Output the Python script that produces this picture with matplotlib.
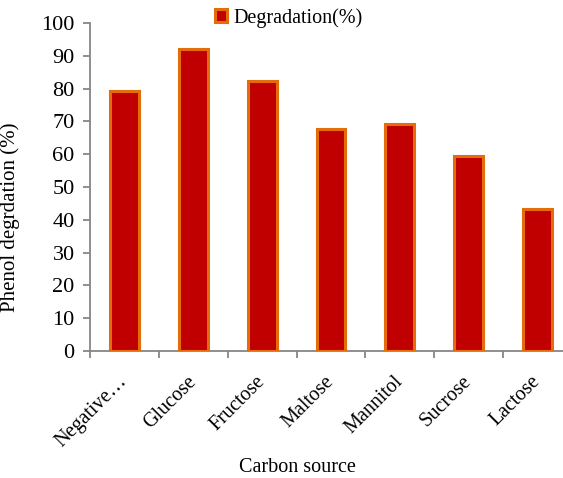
import matplotlib.pyplot as plt
from matplotlib.transforms import ScaledTranslation

plt.rcParams['font.family'] = ['Liberation Serif', 'DejaVu Serif']

sources = ['Negative…', 'Glucose', 'Fructose', 'Maltose', 'Mannitol', 'Sucrose', 'Lactose']
degradation = [79.3, 92.1, 82.2, 67.6, 69.2, 59.4, 43.3]
yticks = [0, 10, 20, 30, 40, 50, 60, 70, 80, 90, 100]

fig = plt.figure(figsize=(5.63, 4.78), dpi=100)
ax = fig.add_axes([90 / 563, (478 - 351) / 478, 1 - 90 / 563, (351 - 23) / 478])

x = range(len(sources))
ax.bar(x, degradation, width=0.42, color='#C00000', edgecolor='#E46C0A',
       linewidth=2.2, label='Degradation(%)', zorder=3)

ax.set_ylim(0, 100)
ax.set_yticks(yticks)
ax.set_xlim(-0.5, 6.37)
ax.set_xticks([i - 0.5 for i in range(7)])
ax.set_xticklabels([])
ax.set_xticks(list(x), minor=True)
labels = ax.set_xticklabels(sources, minor=True, rotation=45, ha='right', va='center',
                            rotation_mode='anchor', fontsize=14.5)
# excel puts the end of the rotated label a bit right of the category centre
offset = ScaledTranslation(13 / 100, -1 / 100, fig.dpi_scale_trans)
for lab in labels:
    lab.set_transform(lab.get_transform() + offset)
ax.tick_params(axis='x', which='minor', length=0, pad=20)
ax.tick_params(axis='x', which='major', length=5, color='#868686', width=1.3)
ax.tick_params(axis='y', length=5, color='#868686', width=1.3, labelsize=16, pad=6)

for s in ['top', 'right']:
    ax.spines[s].set_visible(False)
for s in ['left', 'bottom']:
    ax.spines[s].set_color('#868686')
    ax.spines[s].set_linewidth(1.3)

ax.set_ylabel('Phenol degrdation (%)', fontsize=15)
ax.yaxis.set_label_coords(-70 / 473, (351 - 217) / 328)
fig.text(297 / 563, (478 - 467) / 478, 'Carbon source', ha='center', va='center', fontsize=14.5)

fig.legend(loc='center', bbox_to_anchor=(289 / 563, 1 - 18 / 478), frameon=False,
           fontsize=14.5, handlelength=0.6, handleheight=0.6, handletextpad=0.3)

fig.savefig('out.png', dpi=100)
